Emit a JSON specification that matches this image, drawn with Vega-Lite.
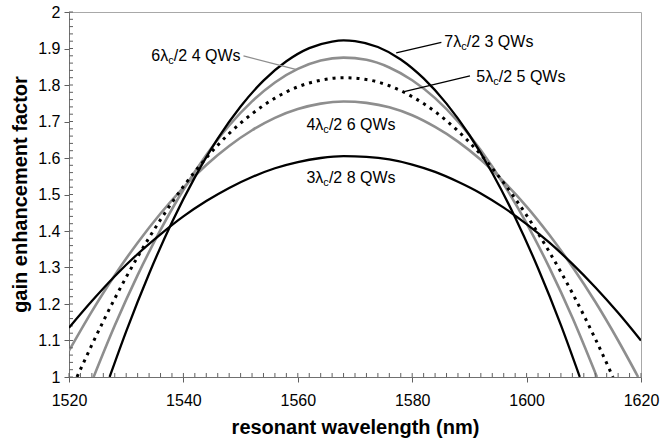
{
  "$schema": "https://vega.github.io/schema/vega-lite/v6.json",
  "width": 572,
  "height": 365,
  "autosize": {"type": "none"},
  "padding": {"left": 69, "top": 12, "right": 19, "bottom": 63},
  "background": "white",
  "config": {
    "view": {"stroke": "#a8a8a8", "strokeWidth": 1},
    "font": "Liberation Sans",
    "axis": {"grid": false, "labelFont": "Liberation Sans", "titleFont": "Liberation Sans", "labelColor": "black", "titleColor": "black"}
  },
  "datasets": {
    "curves": [
      {"s": "7", "x": 1527.1, "y": 1.0}, {"s": "7", "x": 1530, "y": 1.125}, {"s": "7", "x": 1534, "y": 1.283}, {"s": "7", "x": 1538, "y": 1.424}, {"s": "7", "x": 1542, "y": 1.547}, {"s": "7", "x": 1546, "y": 1.653}, {"s": "7", "x": 1550, "y": 1.741}, {"s": "7", "x": 1554, "y": 1.812}, {"s": "7", "x": 1558, "y": 1.865}, {"s": "7", "x": 1562, "y": 1.901}, {"s": "7", "x": 1566, "y": 1.919}, {"s": "7", "x": 1568, "y": 1.922}, {"s": "7", "x": 1570, "y": 1.920}, {"s": "7", "x": 1574, "y": 1.904}, {"s": "7", "x": 1578, "y": 1.870}, {"s": "7", "x": 1582, "y": 1.818}, {"s": "7", "x": 1586, "y": 1.749}, {"s": "7", "x": 1590, "y": 1.663}, {"s": "7", "x": 1594, "y": 1.559}, {"s": "7", "x": 1598, "y": 1.437}, {"s": "7", "x": 1602, "y": 1.298}, {"s": "7", "x": 1606, "y": 1.142}, {"s": "7", "x": 1609.3, "y": 1.0},
      {"s": "6", "x": 1524.3, "y": 1.0}, {"s": "6", "x": 1528, "y": 1.141}, {"s": "6", "x": 1532, "y": 1.279}, {"s": "6", "x": 1536, "y": 1.403}, {"s": "6", "x": 1540, "y": 1.513}, {"s": "6", "x": 1544, "y": 1.608}, {"s": "6", "x": 1548, "y": 1.689}, {"s": "6", "x": 1552, "y": 1.755}, {"s": "6", "x": 1556, "y": 1.807}, {"s": "6", "x": 1560, "y": 1.844}, {"s": "6", "x": 1564, "y": 1.867}, {"s": "6", "x": 1568, "y": 1.875}, {"s": "6", "x": 1572, "y": 1.869}, {"s": "6", "x": 1576, "y": 1.848}, {"s": "6", "x": 1580, "y": 1.813}, {"s": "6", "x": 1584, "y": 1.764}, {"s": "6", "x": 1588, "y": 1.700}, {"s": "6", "x": 1592, "y": 1.621}, {"s": "6", "x": 1596, "y": 1.528}, {"s": "6", "x": 1600, "y": 1.421}, {"s": "6", "x": 1604, "y": 1.299}, {"s": "6", "x": 1608, "y": 1.163}, {"s": "6", "x": 1612.3, "y": 1.0},
      {"s": "5", "x": 1521.4, "y": 1.0}, {"s": "5", "x": 1524, "y": 1.088}, {"s": "5", "x": 1528, "y": 1.215}, {"s": "5", "x": 1532, "y": 1.329}, {"s": "5", "x": 1536, "y": 1.431}, {"s": "5", "x": 1540, "y": 1.522}, {"s": "5", "x": 1544, "y": 1.600}, {"s": "5", "x": 1548, "y": 1.667}, {"s": "5", "x": 1552, "y": 1.721}, {"s": "5", "x": 1556, "y": 1.764}, {"s": "5", "x": 1560, "y": 1.795}, {"s": "5", "x": 1564, "y": 1.813}, {"s": "5", "x": 1568, "y": 1.820}, {"s": "5", "x": 1572, "y": 1.815}, {"s": "5", "x": 1576, "y": 1.798}, {"s": "5", "x": 1580, "y": 1.768}, {"s": "5", "x": 1584, "y": 1.727}, {"s": "5", "x": 1588, "y": 1.674}, {"s": "5", "x": 1592, "y": 1.609}, {"s": "5", "x": 1596, "y": 1.532}, {"s": "5", "x": 1600, "y": 1.443}, {"s": "5", "x": 1604, "y": 1.342}, {"s": "5", "x": 1608, "y": 1.230}, {"s": "5", "x": 1612, "y": 1.105}, {"s": "5", "x": 1615.1, "y": 1.0},
      {"s": "4", "x": 1520, "y": 1.072}, {"s": "4", "x": 1524, "y": 1.180}, {"s": "4", "x": 1528, "y": 1.279}, {"s": "4", "x": 1532, "y": 1.368}, {"s": "4", "x": 1536, "y": 1.448}, {"s": "4", "x": 1540, "y": 1.519}, {"s": "4", "x": 1544, "y": 1.581}, {"s": "4", "x": 1548, "y": 1.633}, {"s": "4", "x": 1552, "y": 1.676}, {"s": "4", "x": 1556, "y": 1.710}, {"s": "4", "x": 1560, "y": 1.734}, {"s": "4", "x": 1564, "y": 1.749}, {"s": "4", "x": 1568, "y": 1.755}, {"s": "4", "x": 1572, "y": 1.751}, {"s": "4", "x": 1576, "y": 1.739}, {"s": "4", "x": 1580, "y": 1.717}, {"s": "4", "x": 1584, "y": 1.685}, {"s": "4", "x": 1588, "y": 1.645}, {"s": "4", "x": 1592, "y": 1.595}, {"s": "4", "x": 1596, "y": 1.535}, {"s": "4", "x": 1600, "y": 1.467}, {"s": "4", "x": 1604, "y": 1.389}, {"s": "4", "x": 1608, "y": 1.302}, {"s": "4", "x": 1612, "y": 1.206}, {"s": "4", "x": 1616, "y": 1.100}, {"s": "4", "x": 1619.5, "y": 1.0},
      {"s": "3", "x": 1520, "y": 1.135}, {"s": "3", "x": 1524, "y": 1.208}, {"s": "3", "x": 1528, "y": 1.276}, {"s": "3", "x": 1532, "y": 1.337}, {"s": "3", "x": 1536, "y": 1.391}, {"s": "3", "x": 1540, "y": 1.440}, {"s": "3", "x": 1544, "y": 1.482}, {"s": "3", "x": 1548, "y": 1.518}, {"s": "3", "x": 1552, "y": 1.548}, {"s": "3", "x": 1556, "y": 1.572}, {"s": "3", "x": 1560, "y": 1.589}, {"s": "3", "x": 1564, "y": 1.600}, {"s": "3", "x": 1568, "y": 1.605}, {"s": "3", "x": 1572, "y": 1.603}, {"s": "3", "x": 1576, "y": 1.596}, {"s": "3", "x": 1580, "y": 1.582}, {"s": "3", "x": 1584, "y": 1.562}, {"s": "3", "x": 1588, "y": 1.535}, {"s": "3", "x": 1592, "y": 1.503}, {"s": "3", "x": 1596, "y": 1.464}, {"s": "3", "x": 1600, "y": 1.419}, {"s": "3", "x": 1604, "y": 1.368}, {"s": "3", "x": 1608, "y": 1.310}, {"s": "3", "x": 1612, "y": 1.246}, {"s": "3", "x": 1616, "y": 1.176}, {"s": "3", "x": 1620, "y": 1.100}
    ],
    "labels": [
      {"x": 1534.4, "y": 1.880, "pre": "6λ", "post": "/2 4 QWs"},
      {"x": 1585.6, "y": 1.919, "pre": "7λ", "post": "/2 3 QWs"},
      {"x": 1591.2, "y": 1.823, "pre": "5λ", "post": "/2 5 QWs"},
      {"x": 1561.5, "y": 1.691, "pre": "4λ", "post": "/2 6 QWs"},
      {"x": 1561.5, "y": 1.545, "pre": "3λ", "post": "/2 8 QWs"}
    ],
    "leaders": [
      {"s": "6", "x": 1550.5, "y": 1.880, "x2": 1559.8, "y2": 1.842},
      {"s": "7", "x": 1585.1, "y": 1.917, "x2": 1577.2, "y2": 1.888},
      {"s": "5", "x": 1590.1, "y": 1.825, "x2": 1578.6, "y2": 1.782}
    ],
    "xminor": [
      {"v": 1520}, {"v": 1522}, {"v": 1524}, {"v": 1526}, {"v": 1528}, {"v": 1530}, {"v": 1532}, {"v": 1534}, {"v": 1536}, {"v": 1538}, {"v": 1540}, {"v": 1542}, {"v": 1544}, {"v": 1546}, {"v": 1548}, {"v": 1550}, {"v": 1552}, {"v": 1554}, {"v": 1556}, {"v": 1558}, {"v": 1560}, {"v": 1562}, {"v": 1564}, {"v": 1566}, {"v": 1568}, {"v": 1570}, {"v": 1572}, {"v": 1574}, {"v": 1576}, {"v": 1578}, {"v": 1580}, {"v": 1582}, {"v": 1584}, {"v": 1586}, {"v": 1588}, {"v": 1590}, {"v": 1592}, {"v": 1594}, {"v": 1596}, {"v": 1598}, {"v": 1600}, {"v": 1602}, {"v": 1604}, {"v": 1606}, {"v": 1608}, {"v": 1610}, {"v": 1612}, {"v": 1614}, {"v": 1616}, {"v": 1618}, {"v": 1620}
    ],
    "yminor": [
      {"v": 1.0}, {"v": 1.02}, {"v": 1.04}, {"v": 1.06}, {"v": 1.08}, {"v": 1.1}, {"v": 1.12}, {"v": 1.14}, {"v": 1.16}, {"v": 1.18}, {"v": 1.2}, {"v": 1.22}, {"v": 1.24}, {"v": 1.26}, {"v": 1.28}, {"v": 1.3}, {"v": 1.32}, {"v": 1.34}, {"v": 1.36}, {"v": 1.38}, {"v": 1.4}, {"v": 1.42}, {"v": 1.44}, {"v": 1.46}, {"v": 1.48}, {"v": 1.5}, {"v": 1.52}, {"v": 1.54}, {"v": 1.56}, {"v": 1.58}, {"v": 1.6}, {"v": 1.62}, {"v": 1.64}, {"v": 1.66}, {"v": 1.68}, {"v": 1.7}, {"v": 1.72}, {"v": 1.74}, {"v": 1.76}, {"v": 1.78}, {"v": 1.8}, {"v": 1.82}, {"v": 1.84}, {"v": 1.86}, {"v": 1.88}, {"v": 1.9}, {"v": 1.92}, {"v": 1.94}, {"v": 1.96}, {"v": 1.98}, {"v": 2.0}
    ]
  },
  "layer": [
    {
      "data": {"name": "curves"},
      "transform": [{"filter": "datum.s === '4' || datum.s === '6'"}],
      "mark": {"type": "line", "color": "#8e8e8e", "strokeWidth": 2.6, "interpolate": "monotone", "clip": true},
      "encoding": {
        "x": {"field": "x", "type": "quantitative", "scale": {"domain": [1520, 1620], "nice": false, "zero": false},
          "axis": {"values": [1520, 1540, 1560, 1580, 1600, 1620], "format": "d", "title": "resonant wavelength (nm)", "titleFontSize": 20, "titleFontWeight": "bold", "labelFontSize": 16, "tickSize": 5, "tickColor": "#606060", "domainColor": "#707070", "labelPadding": 10, "titleY": 50, "titleBaseline": "middle", "labelFlush": false}},
        "y": {"field": "y", "type": "quantitative", "scale": {"domain": [1, 2], "nice": false, "zero": false},
          "axis": {"values": [1, 1.1, 1.2, 1.3, 1.4, 1.5, 1.6, 1.7, 1.8, 1.9, 2], "format": ".1~f", "title": "gain enhancement factor", "titleFontSize": 20, "titleFontWeight": "bold", "labelFontSize": 16, "tickSize": 5, "tickColor": "#606060", "domainColor": "#707070", "labelPadding": 4, "titleX": -49, "titleY": 182, "titleAnchor": "middle", "titleAlign": "center", "titleBaseline": "middle", "labelFlush": false}},
        "detail": {"field": "s", "type": "nominal"}
      }
    },
    {
      "data": {"name": "xminor"},
      "mark": {"type": "rule", "color": "#606060", "strokeWidth": 1},
      "encoding": {
        "x": {"field": "v", "type": "quantitative", "axis": null},
        "y": {"datum": 1.0, "type": "quantitative", "axis": null},
        "y2": {"datum": 1.011}
      }
    },
    {
      "data": {"name": "yminor"},
      "mark": {"type": "rule", "color": "#606060", "strokeWidth": 1},
      "encoding": {
        "y": {"field": "v", "type": "quantitative", "axis": null},
        "x": {"datum": 1520, "type": "quantitative", "axis": null},
        "x2": {"datum": 1520.7}
      }
    },
    {
      "data": {"name": "curves"},
      "transform": [{"filter": "datum.s === '5'"}],
      "mark": {"type": "line", "color": "black", "strokeWidth": 3, "strokeDash": [3, 5], "interpolate": "monotone", "clip": true},
      "encoding": {
        "x": {"field": "x", "type": "quantitative", "axis": null},
        "y": {"field": "y", "type": "quantitative", "axis": null}
      }
    },
    {
      "data": {"name": "curves"},
      "transform": [{"filter": "datum.s === '7' || datum.s === '3'"}],
      "mark": {"type": "line", "color": "black", "strokeWidth": 2.3, "interpolate": "monotone", "clip": true},
      "encoding": {
        "x": {"field": "x", "type": "quantitative", "axis": null},
        "y": {"field": "y", "type": "quantitative", "axis": null},
        "detail": {"field": "s", "type": "nominal"}
      }
    },
    {
      "data": {"name": "leaders"},
      "mark": {"type": "rule", "strokeWidth": 1.3},
      "encoding": {
        "x": {"field": "x", "type": "quantitative", "axis": null},
        "y": {"field": "y", "type": "quantitative", "axis": null},
        "x2": {"field": "x2"},
        "y2": {"field": "y2"},
        "color": {"field": "s", "type": "nominal", "scale": {"domain": ["6", "7", "5"], "range": ["#8e8e8e", "black", "black"]}, "legend": null}
      }
    },
    {
      "data": {"name": "labels"},
      "mark": {"type": "text", "align": "left", "baseline": "middle", "fontSize": 16, "color": "black", "font": "Liberation Sans"},
      "encoding": {
        "x": {"field": "x", "type": "quantitative", "axis": null},
        "y": {"field": "y", "type": "quantitative", "axis": null},
        "text": {"field": "pre"}
      }
    },
    {
      "data": {"name": "labels"},
      "mark": {"type": "text", "align": "left", "baseline": "middle", "fontSize": 11, "dx": 16.9, "dy": 5, "text": "c", "color": "black", "font": "Liberation Sans"},
      "encoding": {
        "x": {"field": "x", "type": "quantitative", "axis": null},
        "y": {"field": "y", "type": "quantitative", "axis": null}
      }
    },
    {
      "data": {"name": "labels"},
      "mark": {"type": "text", "align": "left", "baseline": "middle", "fontSize": 16, "dx": 22.5, "color": "black", "font": "Liberation Sans"},
      "encoding": {
        "x": {"field": "x", "type": "quantitative", "axis": null},
        "y": {"field": "y", "type": "quantitative", "axis": null},
        "text": {"field": "post"}
      }
    }
  ],
  "resolve": {"axis": {"x": "independent", "y": "independent"}}
}
